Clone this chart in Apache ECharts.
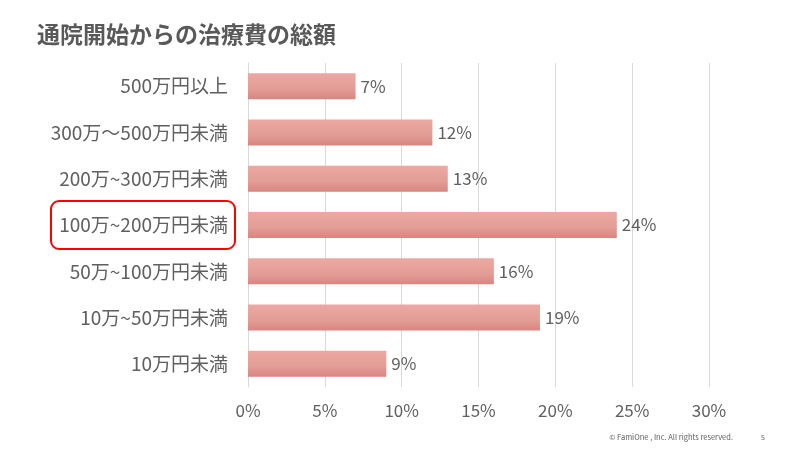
<!DOCTYPE html>
<html>
<head>
<meta charset="utf-8">
<script src="https://cdn.jsdelivr.net/npm/echarts@6/dist/echarts.min.js"></script>
<style>
  html, body { margin: 0; padding: 0; background: #fff; }
  #main { width: 800px; height: 450px; }
</style>
</head>
<body>
<div id="main"></div>
<script>
// 治療費の区分（上から順）
const categories = ['500万円以上', '300万～500万円未満', '200万~300万円未満', '100万~200万円未満', '50万~100万円未満', '10万~50万円未満', '10万円未満']
const values = [7, 12, 13, 24, 16, 19, 9]
const xTicks = [0, 5, 10, 15, 20, 25, 30]
const highlighted = '100万~200万円未満'

const font = '"Noto Sans CJK JP", "Noto Sans", sans-serif'
const gray = '#606060'

const chart = echarts.init(document.getElementById('main'))
chart.setOption({
  backgroundColor: '#fff',
  animation: false,
  title: {
    text: '通院開始からの治療費の総額',
    left: 32,
    top: 18,
    textStyle: { fontFamily: font, fontSize: 23, fontWeight: 'bold', color: '#595959' }
  },
  grid: { left: 248, right: 91, top: 63, bottom: 63 },
  xAxis: {
    type: 'value',
    min: xTicks[0],
    max: xTicks[xTicks.length - 1],
    interval: 5,
    axisLine: { show: false },
    axisTick: { show: false },
    splitLine: { lineStyle: { color: '#d9d9d9', width: 1 } },
    axisLabel: { formatter: '{value}%', color: gray, fontFamily: font, fontSize: 17, margin: 15 }
  },
  yAxis: {
    type: 'category',
    data: categories,
    inverse: true,
    axisLine: { show: true, lineStyle: { color: '#d9d9d9' } },
    axisTick: { show: false },
    axisLabel: { color: gray, fontFamily: font, fontSize: 19, margin: 20 }
  },
  series: [{
    type: 'bar',
    data: values,
    barWidth: 26,
    itemStyle: {
      color: new echarts.graphic.LinearGradient(0, 0, 0, 1, [
        { offset: 0, color: '#eca8a2' },
        { offset: 0.6, color: '#e39d97' },
        { offset: 1, color: '#d8857f' }
      ])
    },
    label: {
      show: true,
      position: 'right',
      distance: 5,
      formatter: '{c}%',
      color: gray,
      fontFamily: font,
      fontSize: 17
    }
  }]
})

// フッターと、強調する区分の赤枠
const cy = chart.convertToPixel({ yAxisIndex: 0 }, highlighted)
chart.setOption({
  graphic: [{
    id: 'copy',
    type: 'text',
    right: 67,
    bottom: 9,
    style: { text: '© FamiOne , Inc. All rights reserved.', fontSize: 7.5, fill: gray, fontFamily: font }
  }, {
    id: 'page',
    type: 'text',
    right: 35,
    bottom: 9,
    style: { text: '5', fontSize: 7, fill: gray, fontFamily: font }
  }, {
    id: 'mark',
    type: 'rect',
    shape: { x: 51, y: cy - 24, width: 184, height: 48, r: 8 },
    style: { fill: 'none', stroke: '#ff0000', lineWidth: 2 }
  }]
})
</script>
</body>
</html>
